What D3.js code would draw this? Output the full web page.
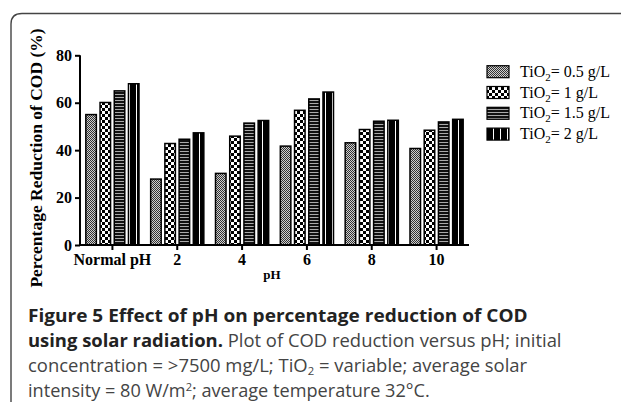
<!DOCTYPE html>
<html>
<head>
<meta charset="utf-8">
<script src="https://cdn.jsdelivr.net/npm/d3@7"></script>
<style>
  html, body { margin: 0; padding: 0; background: #fff; }
  svg { display: block; }
</style>
</head>
<body>
<svg id="chart" width="621" height="405"></svg>
<script>
const categories = ["Normal pH", "2", "4", "6", "8", "10"];
const seriesNames = ["0.5", "1", "1.5", "2"];
const s05 = [55, 27.8, 30.2, 41.7, 43.1, 40.7];
const s1  = [60.1, 42.8, 45.9, 56.8, 48.7, 48.4];
const s15 = [65, 44.6, 51.4, 61.6, 52.2, 51.9];
const s2  = [68, 47.3, 52.5, 64.5, 52.6, 53];
const yTicks = [0, 20, 40, 60, 80];
const seriesValues = [s05, s1, s15, s2];

const svg = d3.select("#chart");
const defs = svg.append("defs");

function pat(id, w, h, build) {
  const p = defs.append("pattern").attr("id", id).attr("patternUnits", "userSpaceOnUse")
    .attr("width", w).attr("height", h);
  build(p);
}
pat("p0", 2, 2, p => {
  p.append("rect").attr("width", 2).attr("height", 2).attr("fill", "#cfcfcf");
  p.append("rect").attr("width", 1).attr("height", 1).attr("fill", "#333");
  p.append("rect").attr("x", 1).attr("y", 1).attr("width", 1).attr("height", 1).attr("fill", "#333");
});
pat("p1", 6, 6, p => {
  p.append("rect").attr("width", 6).attr("height", 6).attr("fill", "#fff");
  p.append("rect").attr("width", 3).attr("height", 3).attr("fill", "#000");
  p.append("rect").attr("x", 3).attr("y", 3).attr("width", 3).attr("height", 3).attr("fill", "#000");
});
pat("p2", 4, 3, p => {
  p.append("rect").attr("width", 4).attr("height", 3).attr("fill", "#111");
  p.append("rect").attr("y", 1).attr("width", 4).attr("height", 1).attr("fill", "#aaa");
});
pat("p3", 7, 7, p => {
  p.append("rect").attr("width", 7).attr("height", 7).attr("fill", "#000");
  p.append("rect").attr("x", 3).attr("width", 1).attr("height", 7).attr("fill", "#fff");
});
const fills = ["url(#p0)", "url(#p1)", "url(#p2)", "url(#p3)"];

// frame
svg.append("path")
  .attr("d", "M11,402 L11,24 Q11,13.5 22,13.5 L621,13.5")
  .attr("fill", "none").attr("stroke", "#444").attr("stroke-width", 1.4);

const x0 = d3.scaleBand().domain(categories).range([80, 469]).paddingInner(0.18).paddingOuter(0.09);
const x1 = d3.scaleBand().domain(seriesNames).range([0, x0.bandwidth()]).paddingInner(0.26);
const y = d3.scaleLinear().domain([0, 80]).range([245, 55.3]);

const g = svg.append("g");
categories.forEach((c, i) => {
  seriesNames.forEach((s, j) => {
    const v = seriesValues[j][i];
    g.append("rect")
      .attr("x", x0(c) + x1(s))
      .attr("y", y(v))
      .attr("width", x1.bandwidth())
      .attr("height", y(0) - y(v))
      .attr("fill", fills[j])
      .attr("stroke", "#000").attr("stroke-width", 1.5);
  });
});

const font = "'Liberation Serif', 'Times New Roman', serif";
const yAxis = svg.append("g").attr("transform", "translate(80,0)")
  .call(d3.axisLeft(y).tickValues(yTicks).tickSize(5).tickPadding(3));
const xAxis = svg.append("g").attr("transform", "translate(0,245)")
  .call(d3.axisBottom(x0).tickSize(5).tickPadding(4).tickSizeOuter(0));
[yAxis, xAxis].forEach(a => {
  a.select(".domain").attr("stroke", "#000").attr("stroke-width", 2);
  a.selectAll(".tick line").attr("stroke", "#000").attr("stroke-width", 2);
  a.selectAll(".tick text").attr("fill", "#000")
    .style("font-family", font).style("font-weight", "bold").style("font-size", "16px");
});
yAxis.select(".domain").attr("d", "M0,55.3V245");
xAxis.select(".domain").attr("d", "M80,0H469");

svg.append("text")
  .attr("transform", "translate(42,158) rotate(-90)")
  .attr("text-anchor", "middle")
  .style("font-family", font).style("font-weight", "bold").style("font-size", "17.5px")
  .text("Percentage Reduction of COD (%)");
svg.append("text")
  .attr("x", 272).attr("y", 278.5)
  .attr("text-anchor", "middle")
  .style("font-family", font).style("font-weight", "bold").style("font-size", "13px")
  .text("pH");

const legend = svg.append("g");
seriesNames.forEach((s, j) => {
  const cy = 71.7 + j * 20.8;
  legend.append("rect").attr("x", 487).attr("y", cy - 6).attr("width", 22).attr("height", 12)
    .attr("fill", fills[j]).attr("stroke", "#000").attr("stroke-width", 1.2);
  const t = legend.append("text").attr("x", 520).attr("y", cy + 5)
    .style("font-family", font).style("font-size", "16px").attr("fill", "#000");
  t.append("tspan").text("TiO");
  t.append("tspan").attr("dy", 4).style("font-size", "11px").text("2");
  t.append("tspan").attr("dy", -4).text("= " + s + " g/L");
});

const cfont = "'Open Sans', sans-serif";
const cap = svg.append("g").style("font-family", cfont).style("font-size", "18px").attr("fill", "#222");
const l1 = cap.append("text").attr("x", 28).attr("y", 322).style("font-weight", "bold")
  .text("Figure 5 Effect of pH on percentage reduction of COD");
const l2 = cap.append("text").attr("x", 28).attr("y", 347);
l2.append("tspan").style("font-weight", "bold").text("using solar radiation.");
l2.append("tspan").attr("fill", "#444").text(" Plot of COD reduction versus pH; initial");
const l3 = cap.append("text").attr("x", 28).attr("y", 372).attr("fill", "#444");
l3.append("tspan").text("concentration = >7500 mg/L; TiO");
l3.append("tspan").attr("dy", 3).style("font-size", "11px").text("2");
l3.append("tspan").attr("dy", -3).text(" = variable; average solar");
const l4 = cap.append("text").attr("x", 28).attr("y", 397).attr("fill", "#444");
l4.append("tspan").text("intensity = 80 W/m");
l4.append("tspan").attr("dy", -6).style("font-size", "11px").text("2");
l4.append("tspan").attr("dy", 6).text("; average temperature 32°C.");

const targets = [500, 534, 500, 402];
[l1, l2, l3, l4].forEach((l, i) => {
  const w = l.node().getBBox().width;
  const k = targets[i] / w;
  l.attr("transform", `translate(28,0) scale(${k},1) translate(-28,0)`);
});
</script>
</body>
</html>
